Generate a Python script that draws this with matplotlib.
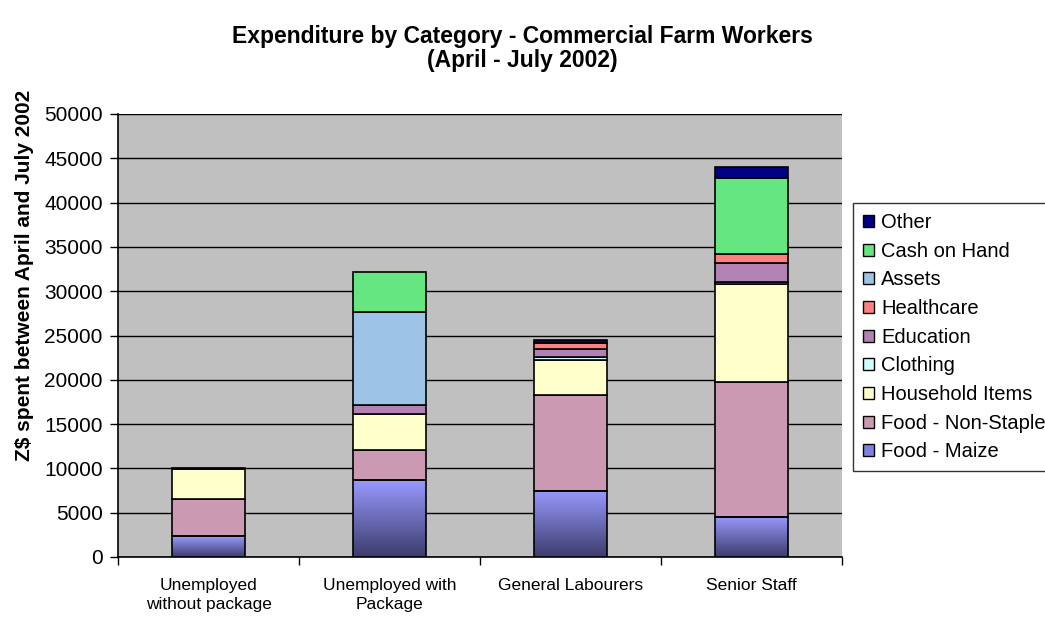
import matplotlib
matplotlib.use('Agg')
import matplotlib.pyplot as plt
from matplotlib.colors import LinearSegmentedColormap
from matplotlib.patches import Patch
import numpy as np

plt.rcParams['font.family'] = ['Liberation Sans', 'DejaVu Sans']

groups = ['Unemployed\nwithout package', 'Unemployed with\nPackage',
          'General Labourers', 'Senior Staff']

# Z$ spent per category, stacked bottom to top
food_maize = [2370, 8690, 7450, 4550]
food_non_staple = [4140, 3390, 10830, 15170]
household_items = [3390, 4030, 3990, 11090]
clothing = [100, 0, 270, 260]
education = [0, 1010, 900, 2070]
healthcare = [0, 0, 710, 1020]
assets = [0, 10530, 0, 0]
cash_on_hand = [0, 4480, 0, 8610]
other = [0, 0, 330, 1200]

series = [
    ('Food - Maize', food_maize, '#8080e0'),
    ('Food - Non-Staple', food_non_staple, '#cc99b3'),
    ('Household Items', household_items, '#ffffcc'),
    ('Clothing', clothing, '#ccffff'),
    ('Education', education, '#b182b3'),
    ('Healthcare', healthcare, '#ff8080'),
    ('Assets', assets, '#9dc3e6'),
    ('Cash on Hand', cash_on_hand, '#66e680'),
    ('Other', other, '#000080'),
]

fig = plt.figure(figsize=(10.45, 6.21), dpi=100)
ax = fig.add_axes([118 / 1045, 64 / 621, 724 / 1045, 443 / 621])
ax.set_facecolor('#c0c0c0')

x = np.arange(len(groups))
width = 0.40
bottom = np.zeros(len(groups))
maize_cmap = LinearSegmentedColormap.from_list('maize', ['#3c3c6c', '#9999ff'])

for name, vals, color in series:
    vals = np.array(vals, dtype=float)
    if name == 'Food - Maize':
        bars = ax.bar(x, vals, width, bottom=bottom, facecolor='none',
                      edgecolor='black', linewidth=1.2, zorder=4)
        # vertical shading inside each maize segment
        grad = np.linspace(0, 1, 256).reshape(-1, 1)
        for rect in bars:
            x0 = rect.get_x()
            y0 = rect.get_y()
            im = ax.imshow(grad, extent=[x0, x0 + rect.get_width(), y0, y0 + rect.get_height()],
                           origin='lower', aspect='auto', cmap=maize_cmap, zorder=3)
            im.set_clip_path(rect)
    else:
        mask = vals > 0
        ax.bar(x[mask], vals[mask], width, bottom=bottom[mask], color=color,
               edgecolor='black', linewidth=1.2, zorder=3)
    bottom += vals

ax.set_xlim(-0.5, len(groups) - 0.5)
ax.set_ylim(0, 50000)
ax.set_yticks(np.arange(0, 50001, 5000))
ax.yaxis.grid(True, color='black', linewidth=1.0)
ax.set_axisbelow(True)

ax.set_xticks(x)
ax.set_xticklabels(groups, fontsize=12.5, linespacing=1.35)
ax.set_xticks(np.arange(-0.5, len(groups), 1), minor=True)
ax.tick_params(axis='x', which='major', length=0, pad=15)
ax.tick_params(axis='x', which='minor', length=6, direction='out', width=1)
ax.tick_params(axis='y', length=6, direction='out', width=1, labelsize=15, pad=5)

for side in ['top', 'right']:
    ax.spines[side].set_visible(False)
ax.spines['left'].set_linewidth(1.2)
ax.spines['bottom'].set_linewidth(1.2)

ax.set_ylabel('Z$ spent between April and July 2002', fontsize=15, fontweight='bold')
ax.yaxis.set_label_coords(-0.116, 0.635)

fig.text(0.5, 0.922, 'Expenditure by Category - Commercial Farm Workers\n(April - July 2002)',
         ha='center', va='center', fontsize=16.5, fontweight='bold', linespacing=1.05)

handles = [Patch(facecolor=('#8080e0' if n == 'Food - Maize' else c), edgecolor='black', label=n)
           for n, v, c in series][::-1]
leg = ax.legend(handles=handles, loc='upper left', bbox_to_anchor=(735 / 724, (621 - 203 - 64) / 443),
                fontsize=14.5, frameon=True, fancybox=False, edgecolor='black',
                handlelength=0.55, handleheight=0.55, handletextpad=0.35,
                labelspacing=0.48, borderpad=0.5, borderaxespad=0)
leg.get_frame().set_linewidth(1.0)

fig.savefig('out.png', dpi=100)
